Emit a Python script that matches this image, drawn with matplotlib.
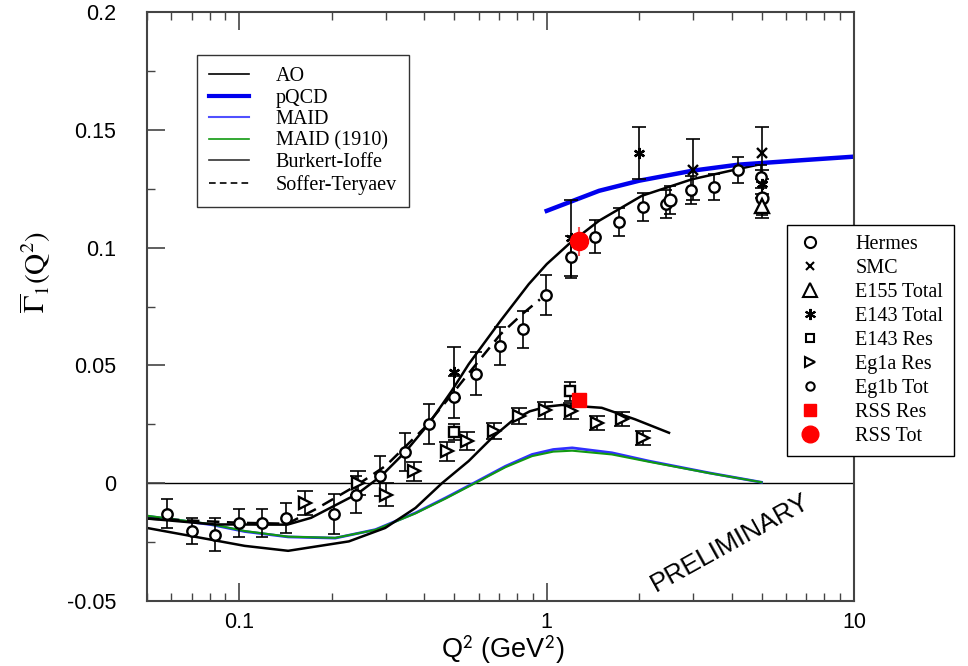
import matplotlib
matplotlib.use('Agg')
import matplotlib.pyplot as plt
from matplotlib.lines import Line2D
from matplotlib.ticker import FixedLocator, FuncFormatter, NullFormatter

plt.rcParams['font.family'] = 'Liberation Sans'
plt.rcParams['axes.unicode_minus'] = False
plt.rcParams['mathtext.fontset'] = 'stix'

# ---- model curves (Q^2, Gamma_1) ----
ao_q2 = [0.05, 0.081, 0.104, 0.144, 0.227, 0.298, 0.374, 0.456, 0.557, 0.664,
         0.77, 0.88, 1.0, 1.12, 1.51, 1.94, 2.5]
ao_g1 = [-0.019, -0.024, -0.0266, -0.0287, -0.0247, -0.019, -0.0105, 0.0, 0.0094,
         0.0193, 0.0264, 0.0305, 0.0325, 0.0332, 0.032, 0.0271, 0.0214]

pqcd_q2 = [1.0, 1.48, 2.0, 3.0, 4.2, 6.6, 10.0]
pqcd_g1 = [0.1156, 0.1241, 0.1284, 0.1327, 0.1352, 0.1370, 0.1386]

maid_q2 = [0.05, 0.081, 0.104, 0.144, 0.205, 0.277, 0.374, 0.469, 0.58, 0.734,
           0.896, 1.05, 1.21, 1.63, 2.15, 3.37, 5.0]
maid_g1 = [-0.014, -0.0176, -0.0205, -0.0228, -0.0233, -0.0197, -0.0126, -0.0062,
           0.0001, 0.0072, 0.0122, 0.0143, 0.015, 0.0129, 0.0094, 0.0044, 0.0004]
maid1910_g1 = [-0.0138, -0.0174, -0.0203, -0.0227, -0.0232, -0.0198, -0.0128, -0.0065,
               -0.0002, 0.0068, 0.0115, 0.0134, 0.0138, 0.0122, 0.0091, 0.0043, 0.0004]

bi_q2 = [0.05, 0.083, 0.143, 0.171, 0.242, 0.29, 0.346, 0.413, 0.49, 0.557,
         0.707, 0.874, 1.0, 1.18, 1.48, 2.04, 2.97, 4.21, 5.0]
bi_g1 = [-0.015, -0.0175, -0.0176, -0.0147, -0.0045, 0.0032, 0.0132, 0.0252, 0.0391,
         0.0505, 0.0689, 0.0845, 0.093, 0.1015, 0.1114, 0.122, 0.129, 0.1334, 0.1355]

st_q2 = [0.05, 0.1, 0.143, 0.176, 0.24, 0.3, 0.4, 0.49, 0.56, 0.707, 0.831, 0.95]
st_g1 = [-0.015, -0.0168, -0.0172, -0.0112, -0.001, 0.0075, 0.0235, 0.0375, 0.047,
         0.0632, 0.0717, 0.078]

# ---- data ----
eg1b_q2 = [0.058, 0.070, 0.083, 0.100, 0.118, 0.142, 0.2025, 0.240, 0.287, 0.346,
           0.413, 0.498, 0.589, 0.707, 0.838, 0.995, 1.195, 1.44, 1.716, 2.05,
           2.45, 2.94, 3.5, 4.19, 4.99]
eg1b_g1 = [-0.0129, -0.0204, -0.0218, -0.0169, -0.0169, -0.0147, -0.0129, -0.0048,
           0.003, 0.0132, 0.025, 0.0366, 0.0465, 0.0582, 0.0653, 0.080, 0.0961,
           0.1047, 0.111, 0.1173, 0.1185, 0.1244, 0.1259, 0.133, 0.1301]
eg1b_err = [0.006, 0.0055, 0.007, 0.006, 0.006, 0.0065, 0.0085, 0.008, 0.0085, 0.008,
            0.0085, 0.009, 0.009, 0.008, 0.008, 0.0085, 0.009, 0.007, 0.006, 0.006,
            0.006, 0.006, 0.0055, 0.0055, 0.005]

hermes_q2 = [2.52, 5.0]
hermes_g1 = [0.1202, 0.121]
hermes_err = [0.006, 0.007]

smc_q2 = [3.0, 5.0]
smc_g1 = [0.133, 0.140]
smc_err = [0.013, 0.011]

e155_q2 = [5.0]
e155_g1 = [0.1177]
e155_err = [0.005]

e143t_q2 = [0.5, 1.2, 2.0, 5.0]
e143t_g1 = [0.047, 0.104, 0.140, 0.127]
e143t_err = [0.011, 0.016, 0.011, 0.006]

e143r_q2 = [0.498, 1.19]
e143r_g1 = [0.0218, 0.0391]
e143r_err = [0.0034, 0.004]

eg1a_q2 = [0.163, 0.243, 0.299, 0.369, 0.473, 0.55, 0.672, 0.81, 0.99, 1.2,
           1.46, 1.76, 2.05]
eg1a_g1 = [-0.0084, 0.0001, -0.0048, 0.0051, 0.0136, 0.0179, 0.0221, 0.0285,
           0.0309, 0.0306, 0.0254, 0.0271, 0.0193]
eg1a_err = [0.005, 0.005, 0.005, 0.004, 0.004, 0.004, 0.0035, 0.0035, 0.0035,
            0.0035, 0.003, 0.003, 0.003]

rss_res_q2 = [1.27]
rss_res_g1 = [0.0352]
rss_tot_q2 = [1.27]
rss_tot_g1 = [0.1026]
rss_tot_err = [0.006]

fig = plt.figure(figsize=(9.68, 6.66), dpi=100)
ax = fig.add_axes([147 / 968, 1 - 601 / 666, 707 / 968, 589 / 666])
ax.set_xscale('log')
ax.set_xlim(0.05, 10)
ax.set_ylim(-0.05, 0.2)

ax.axhline(0, color='black', lw=1.0, zorder=1)

# curves
ax.plot(maid_q2, maid_g1, color='#3030ff', lw=2.0, zorder=2)
ax.plot(maid_q2, maid1910_g1, color='#119911', lw=1.5, zorder=2)
ax.plot(ao_q2, ao_g1, color='black', lw=1.8, zorder=2)
ax.plot(bi_q2, bi_g1, color='black', lw=1.8, zorder=2)
ax.plot(st_q2, st_g1, color='black', lw=1.8, ls=(0, (5, 3)), zorder=2)
ax.plot(pqcd_q2, pqcd_g1, color='#0000ee', lw=3.2, zorder=2)


def draw(q2, g1, err, marker, ms, cap=4, mfc='white', color='black', z=3):
    ax.errorbar(q2, g1, yerr=err, fmt='none', ecolor=color, elinewidth=1.2,
                capsize=cap, capthick=1.2, zorder=z)
    ax.plot(q2, g1, ls='none', marker=marker, ms=ms, mfc=mfc, mec=color, mew=1.7,
            zorder=z + 0.1)


draw(eg1b_q2, eg1b_g1, eg1b_err, 'o', 7.5, cap=4)
draw(hermes_q2, hermes_g1, hermes_err, 'o', 8.5, cap=4)
draw(smc_q2, smc_g1, smc_err, 'x', 7, cap=5)
draw(e155_q2, e155_g1, e155_err, '^', 10, cap=5)
draw(e143t_q2, e143t_g1, e143t_err, (6, 2, 0), 8, cap=5)
draw(e143r_q2, e143r_g1, e143r_err, 's', 7, cap=4)
draw(eg1a_q2, eg1a_g1, eg1a_err, '>', 8, cap=6)
ax.errorbar(rss_tot_q2, rss_tot_g1, yerr=rss_tot_err, fmt='none',
            ecolor='#ff5555', elinewidth=1.5, zorder=4)
ax.plot(rss_tot_q2, rss_tot_g1, 'o', ms=13, color='red', zorder=4.1)
ax.plot(rss_res_q2, rss_res_g1, 's', ms=10, color='red', zorder=4.1)

ax.text(3.95, -0.0255, 'PRELIMINARY', rotation=29, ha='center', va='center',
        fontsize=19)

# axes styling
for s in ax.spines.values():
    s.set_color('#444444')
    s.set_linewidth(1.5)
ax.xaxis.set_major_locator(FixedLocator([0.1, 1, 10]))
ax.xaxis.set_major_formatter(FuncFormatter(lambda v, p: '%g' % v))
minors = [m * 10.0 ** e for e in (-2, -1, 0) for m in range(2, 10)]
ax.xaxis.set_minor_locator(FixedLocator(minors))
ax.xaxis.set_minor_formatter(NullFormatter())
ax.yaxis.set_major_locator(FixedLocator([-0.05, 0, 0.05, 0.1, 0.15, 0.2]))
ax.yaxis.set_minor_locator(FixedLocator([-0.025, 0.025, 0.075, 0.125, 0.175]))
ax.yaxis.set_major_formatter(FuncFormatter(lambda v, p: '%g' % v))
ax.tick_params(which='both', direction='in', top=True, right=False,
               labelsize=15.5, color='#444444')
ax.tick_params(which='major', length=13, width=1.2)
ax.tick_params(which='minor', length=6, width=1.0)
ax.tick_params(axis='y', which='major', pad=22)
ax.tick_params(axis='x', which='major', pad=8)

fig.text(35 / 968, 1 - 272 / 666, r'$\overline{\Gamma}_1(\mathrm{Q}^2)$', rotation=90,
         ha='center', va='center', fontsize=21)
fig.text(503 / 968, 1 - 650 / 666, r'Q$^{\mathsf{2}}$ (GeV$^{\mathsf{2}}$)',
         ha='center', va='center', fontsize=19.5)

# legends
serif = {'family': 'Liberation Serif', 'size': 14.5}
line_handles = [
    Line2D([], [], color='black', lw=1.2),
    Line2D([], [], color='#0000ee', lw=3),
    Line2D([], [], color='#5050ff', lw=1.5),
    Line2D([], [], color='#119911', lw=1.2),
    Line2D([], [], color='#333333', lw=1.2),
    Line2D([], [], color='black', lw=1.2, ls=(0, (4, 2.5))),
]
line_labels = ['AO', 'pQCD', 'MAID', 'MAID (1910)', 'Burkert-Ioffe', 'Soffer-Teryaev']
leg1 = ax.legend(line_handles, line_labels, loc='upper left',
                 bbox_to_anchor=(197 / 968, 1 - 55 / 666), bbox_transform=fig.transFigure,
                 prop=serif, frameon=True, fancybox=False, edgecolor='black',
                 handlelength=2.0, handletextpad=1.3, labelspacing=0.12,
                 borderpad=0.6, borderaxespad=0)
leg1.get_frame().set_linewidth(1.0)
ax.add_artist(leg1)

mk = dict(ls='none', mfc='white', mec='black', mew=1.5)
point_handles = [
    Line2D([], [], marker='o', ms=8, **mk),
    Line2D([], [], marker='x', ms=6, **mk),
    Line2D([], [], marker='^', ms=10, **mk),
    Line2D([], [], marker=(6, 2, 0), ms=8, **mk),
    Line2D([], [], marker='s', ms=6, **mk),
    Line2D([], [], marker='>', ms=7, **mk),
    Line2D([], [], marker='o', ms=6, **mk),
    Line2D([], [], marker='s', ms=8, ls='none', color='red'),
    Line2D([], [], marker='o', ms=12, ls='none', color='red'),
]
point_labels = ['Hermes', 'SMC', 'E155 Total', 'E143 Total', 'E143 Res',
                'Eg1a Res', 'Eg1b Tot', 'RSS Res', 'RSS Tot']
leg2 = ax.legend(point_handles, point_labels, loc='upper left',
                 bbox_to_anchor=(787 / 968, 1 - 225 / 666), bbox_transform=fig.transFigure,
                 prop=serif, frameon=True, fancybox=False, edgecolor='black',
                 handlelength=1.3, handletextpad=1.6, labelspacing=0.24,
                 borderpad=0.5, borderaxespad=0, framealpha=1)
leg2.get_frame().set_linewidth(1.0)

fig.savefig('out.png', dpi=100)
